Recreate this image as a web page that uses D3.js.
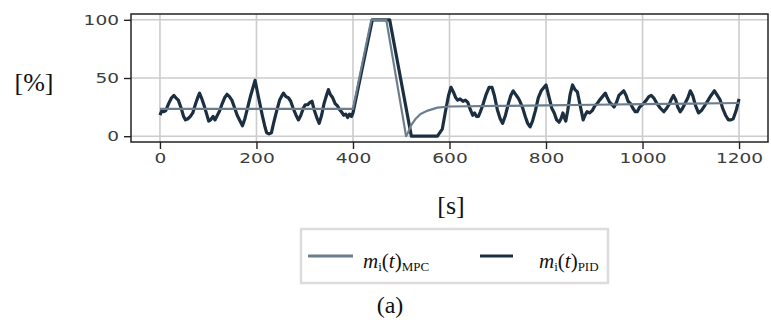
<!DOCTYPE html>
<html>
<head>
<meta charset="utf-8">
<script src="https://cdn.jsdelivr.net/npm/d3@7"></script>
<style>
  body { margin: 0; background: #fff; }
  svg { display: block; }
</style>
</head>
<body>
<div id="chart"></div>
<script>
// data
const xTicks = [0, 200, 400, 600, 800, 1000, 1200];
const yTicks = [0, 50, 100];

const mpcTime = [0, 400, 438, 469, 510, 514, 520, 530, 540, 555, 575, 600, 700, 800, 900, 1000, 1100, 1200];
const mpcVal  = [23.5, 23.5, 100, 100, 0, 3, 9, 15, 19, 22, 24.5, 25.5, 26, 26.5, 27, 27.5, 28, 28.5];

const pidTime = [0, 4, 8, 12, 18, 24, 29, 33, 38, 44, 49, 53, 58, 63, 68, 74, 79, 82, 86, 91, 96, 101, 105, 110, 114, 119,
  124, 129, 134, 139, 144, 149, 155, 160, 166, 171, 176, 182, 188, 193, 197, 202, 207, 212, 217, 221, 226, 231, 236, 242,
  248, 253, 256, 261, 266, 271, 276, 282, 287, 292, 297, 301, 306, 311, 315, 320, 325, 330, 335, 340, 345, 349, 353, 358,
  363, 368, 372, 376, 381, 385, 389, 393, 397, 400, 440, 476, 521, 575, 585, 592, 598, 603, 608, 613, 617, 622, 628, 633,
  638, 643, 648, 652, 656, 660, 664, 670, 676, 682, 688, 693, 699, 705, 710, 716, 722, 727, 732, 737, 742, 746, 751, 757,
  762, 767, 772, 778, 784, 790, 796, 800, 806, 812, 817, 822, 827, 831, 835, 838, 841, 845, 850, 855, 860, 865, 871, 877,
  881, 885, 890, 896, 901, 906, 911, 917, 923, 927, 932, 937, 941, 946, 951, 956, 961, 966, 970, 975, 980, 985, 989, 994,
  1002, 1008, 1013, 1018, 1023, 1030, 1037, 1044, 1050, 1056, 1060, 1064, 1069, 1073, 1078, 1083, 1088, 1094, 1099, 1104,
  1110, 1116, 1122, 1130, 1136, 1142, 1149, 1155, 1161, 1166, 1172, 1178, 1183, 1188, 1194, 1200];
const pidVal = [18, 22, 21, 22, 28, 33, 35, 33, 31, 24, 17, 14, 15, 17, 20, 28, 34, 37, 33, 27, 20, 13, 14, 17, 14, 18,
  22, 28, 33, 36, 34, 31, 24, 18, 13, 9, 15, 25, 35, 42, 48, 38, 28, 18, 9, 3, 2, 3, 12, 22,
  31, 35, 37, 34, 33, 30, 24, 18, 14, 18, 24, 27, 27, 29, 30, 22, 16, 11, 18, 28, 35, 40, 36, 33,
  28, 26, 23, 21, 18, 19, 16, 19, 17, 20, 100, 100, 0, 0, 6, 22, 35, 42, 38, 33, 31, 32, 30, 31,
  29, 23, 18, 20, 17, 17, 21, 28, 36, 42, 42, 35, 23, 15, 11, 18, 28, 35, 39, 36, 33, 30, 25, 17,
  11, 8, 13, 22, 33, 39, 42, 44, 34, 24, 20, 14, 12, 15, 20, 16, 13, 22, 36, 44, 40, 38, 26, 14,
  18, 21, 20, 22, 26, 28, 31, 34, 37, 33, 29, 27, 25, 29, 35, 37, 39, 35, 30, 28, 24, 21, 21, 25,
  28, 31, 34, 35, 33, 28, 24, 21, 24, 28, 32, 35, 31, 25, 21, 24, 28, 33, 39, 35,
  26, 20, 22, 27, 31, 35, 39, 35, 31, 24, 18, 14, 14, 15, 22, 32];

const W = 771, H = 326;
const svg = d3.select("#chart").append("svg")
    .attr("width", W).attr("height", H);

const plot = {left: 131, right: 768, top: 14, bottom: 142};

const x = d3.scaleLinear().domain([-60, 1260]).range([plot.left, plot.right]);
const y = d3.scaleLinear().domain([-5, 105]).range([plot.bottom, plot.top]);

// grid
const grid = svg.append("g");
xTicks.forEach(t => {
    grid.append("line").attr("x1", x(t)).attr("x2", x(t))
        .attr("y1", plot.top).attr("y2", plot.bottom)
        .attr("stroke", "#cccccc").attr("stroke-width", 1.6);
});
yTicks.forEach(t => {
    grid.append("line").attr("x1", plot.left).attr("x2", plot.right)
        .attr("y1", y(t)).attr("y2", y(t))
        .attr("stroke", "#cccccc").attr("stroke-width", 1.6);
});

// lines
const line = d3.line().x(d => x(d[0])).y(d => y(d[1]));
const pidData = pidTime.map((t, i) => [t, pidVal[i]]);
const mpcData = mpcTime.map((t, i) => [t, mpcVal[i]]);

svg.append("path").datum(pidData).attr("d", line)
    .attr("fill", "none").attr("stroke", "#1c2f40").attr("stroke-width", 3.2)
    .attr("stroke-linejoin", "round");
svg.append("path").datum(mpcData).attr("d", line)
    .attr("fill", "none").attr("stroke", "#6c7e8e").attr("stroke-width", 2.2)
    .attr("stroke-linejoin", "round");

// frame
svg.append("rect").attr("x", plot.left).attr("y", plot.top)
    .attr("width", plot.right - plot.left).attr("height", plot.bottom - plot.top)
    .attr("fill", "none").attr("stroke", "#222").attr("stroke-width", 1.5);

// axes
const styleAxis = function(g) {
    g.select(".domain").remove();
    g.selectAll(".tick line").attr("stroke", "#222").attr("stroke-width", 1.4);
    g.selectAll(".tick text")
        .attr("fill", "#3c3c3c")
        .style("font-family", "'DejaVu Sans', sans-serif")
        .style("font-size", "14px")
        .attr("textLength", function() { return this.textContent.length * 11.8; })
        .attr("lengthAdjust", "spacingAndGlyphs");
};

svg.append("g").attr("transform", `translate(0,${plot.bottom})`)
    .call(d3.axisBottom(x).tickValues(xTicks).tickSize(7).tickPadding(4).tickFormat(d3.format("d")))
    .call(styleAxis);

svg.append("g").attr("transform", `translate(${plot.left},0)`)
    .call(d3.axisLeft(y).tickValues(yTicks).tickSize(7).tickPadding(5).tickFormat(d3.format("d")))
    .call(styleAxis);

// axis titles
const serif = "'Liberation Serif', 'Times New Roman', serif";
svg.append("text").attr("x", 34).attr("y", 91).attr("text-anchor", "middle")
    .style("font-family", serif).style("font-size", "26px").attr("fill", "#111").text("[%]");
svg.append("text").attr("x", 451).attr("y", 214).attr("text-anchor", "middle")
    .style("font-family", serif).style("font-size", "26px").attr("fill", "#111").text("[s]");

// legend
const lg = svg.append("g");
lg.append("rect").attr("x", 301).attr("y", 229).attr("width", 307).attr("height", 54)
    .attr("fill", "#fff").attr("stroke", "#dcdcdc").attr("stroke-width", 2.5);

const legendItems = [
    {x1: 308, x2: 353, tx: 363, sub: "MPC", color: "#6c7e8e"},
    {x1: 480, x2: 513, tx: 539, sub: "PID", color: "#1c2f40"}
];
legendItems.forEach(it => {
    lg.append("line").attr("x1", it.x1).attr("x2", it.x2).attr("y1", 256).attr("y2", 256)
        .attr("stroke", it.color).attr("stroke-width", 3);
    const t = lg.append("text").attr("x", it.tx).attr("y", 268)
        .style("font-family", serif).style("font-size", "21px").attr("fill", "#111");
    t.append("tspan").style("font-style", "italic").text("m");
    t.append("tspan").style("font-size", "13px").attr("dy", 3).text("i");
    t.append("tspan").attr("dy", -3).text("(");
    t.append("tspan").style("font-style", "italic").text("t");
    t.append("tspan").text(")");
    t.append("tspan").style("font-size", "13px").attr("dy", 3).text(it.sub);
});

svg.append("text").attr("x", 390).attr("y", 313).attr("text-anchor", "middle")
    .style("font-family", serif).style("font-size", "24px").attr("fill", "#111").text("(a)");
</script>
</body>
</html>
